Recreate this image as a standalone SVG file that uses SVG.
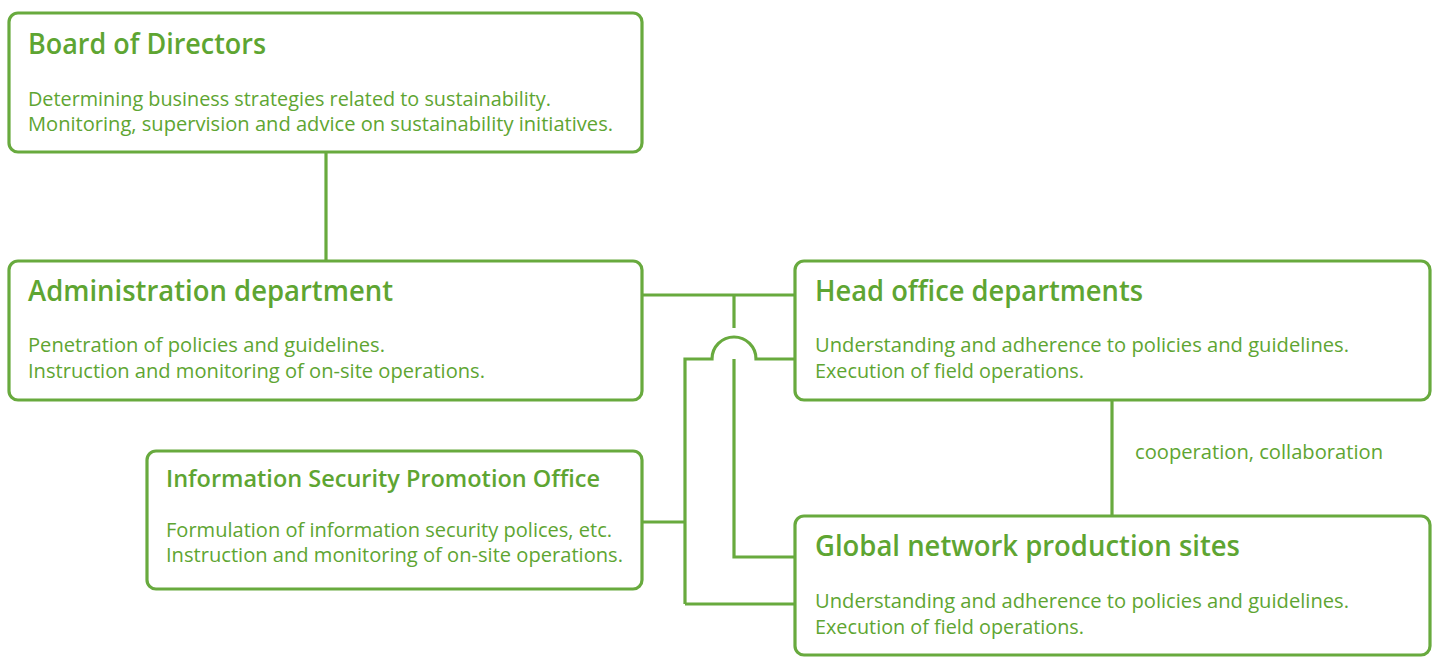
<svg xmlns="http://www.w3.org/2000/svg" width="1440" height="669" viewBox="0 0 1440 669">
<style>
.box{fill:#fff;stroke:#68aa3e;stroke-width:3.2}
.ln{fill:none;stroke:#68aa3e;stroke-width:3.2}
text{font-family:"Open Sans","Noto Sans","Liberation Sans",sans-serif;fill:#5ea532}
.t{font-size:28px;font-weight:600}
.t2{font-size:23px;font-weight:600}
.b{font-size:20px}
</style>
<rect width="1440" height="669" fill="#fff"/>
<g id="connectors">
<line class="ln" x1="326" y1="152" x2="326" y2="261"/>
<line class="ln" x1="642" y1="295" x2="795" y2="295"/>
<polyline class="ln" points="734,295 734,328"/>
<polyline class="ln" points="734,359 734,557 795,557"/>
<path class="ln" d="M642,522 H685 M685,604 V359 H712 A22,22 0 0 1 756,359 H795 M685,604 H795"/>
<line class="ln" x1="1112" y1="400" x2="1112" y2="516"/>
<text class="b" x="1135" y="459" textLength="248" lengthAdjust="spacingAndGlyphs">cooperation, collaboration</text>
</g>
<g id="board">
<rect class="box" x="9" y="13" width="633" height="139" rx="9"/>
<text class="t" x="28" y="54" textLength="238" lengthAdjust="spacingAndGlyphs">Board of Directors</text>
<text class="b" x="28" y="106" textLength="523" lengthAdjust="spacingAndGlyphs">Determining business strategies related to sustainability.</text>
<text class="b" x="28" y="131" textLength="585" lengthAdjust="spacingAndGlyphs">Monitoring, supervision and advice on sustainability initiatives.</text>
</g>
<g id="admin">
<rect class="box" x="9" y="261" width="633" height="139" rx="9"/>
<text class="t" x="28" y="301" textLength="365" lengthAdjust="spacingAndGlyphs">Administration department</text>
<text class="b" x="28" y="352" textLength="357" lengthAdjust="spacingAndGlyphs">Penetration of policies and guidelines.</text>
<text class="b" x="28" y="378" textLength="457" lengthAdjust="spacingAndGlyphs">Instruction and monitoring of on-site operations.</text>
</g>
<g id="headoffice">
<rect class="box" x="795" y="261" width="635" height="139" rx="9"/>
<text class="t" x="815" y="301" textLength="328" lengthAdjust="spacingAndGlyphs">Head office departments</text>
<text class="b" x="815" y="352" textLength="534" lengthAdjust="spacingAndGlyphs">Understanding and adherence to policies and guidelines.</text>
<text class="b" x="815" y="378" textLength="269" lengthAdjust="spacingAndGlyphs">Execution of field operations.</text>
</g>
<g id="infosec">
<rect class="box" x="147" y="451" width="495" height="138" rx="9"/>
<text class="t2" x="166" y="487" textLength="434" lengthAdjust="spacingAndGlyphs">Information Security Promotion Office</text>
<text class="b" x="166" y="537" textLength="446" lengthAdjust="spacingAndGlyphs">Formulation of information security polices, etc.</text>
<text class="b" x="166" y="562" textLength="457" lengthAdjust="spacingAndGlyphs">Instruction and monitoring of on-site operations.</text>
</g>
<g id="global">
<rect class="box" x="795" y="516" width="635" height="139" rx="9"/>
<text class="t" x="815" y="556" textLength="425" lengthAdjust="spacingAndGlyphs">Global network production sites</text>
<text class="b" x="815" y="608" textLength="534" lengthAdjust="spacingAndGlyphs">Understanding and adherence to policies and guidelines.</text>
<text class="b" x="815" y="634" textLength="269" lengthAdjust="spacingAndGlyphs">Execution of field operations.</text>
</g>
</svg>
